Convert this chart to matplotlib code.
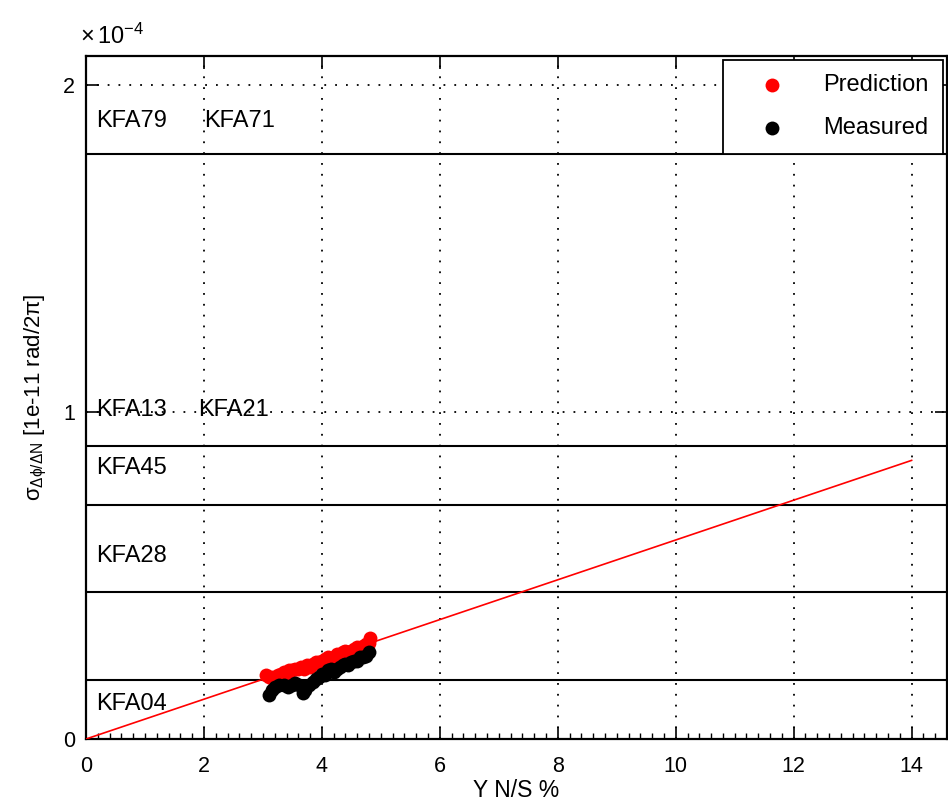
import matplotlib
matplotlib.use("Agg")
import matplotlib.pyplot as plt
from matplotlib.ticker import FuncFormatter, MultipleLocator, FixedLocator

plt.rcParams['font.family'] = ['Liberation Sans', 'DejaVu Sans']
plt.rcParams['mathtext.fontset'] = 'custom'
plt.rcParams['mathtext.rm'] = 'Liberation Sans'
plt.rcParams['mathtext.it'] = 'Liberation Sans'

# ---- data ----
pred_x = [3.05, 3.10, 3.15, 3.20, 3.25, 3.30, 3.35, 3.40, 3.45, 3.50, 3.55, 3.60,
          3.65, 3.70, 3.75, 3.80, 3.85, 3.90, 3.95, 4.00, 4.05, 4.10, 4.15, 4.20,
          4.25, 4.30, 4.35, 4.40, 4.45, 4.50, 4.55, 4.60, 4.65, 4.70, 4.75, 4.80, 4.82]
pred_y = [0.195, 0.19, 0.19, 0.17, 0.195, 0.20, 0.205, 0.20, 0.21, 0.21, 0.215, 0.215,
          0.22, 0.215, 0.225, 0.22, 0.23, 0.235, 0.235, 0.24, 0.245, 0.25, 0.245, 0.25,
          0.26, 0.255, 0.265, 0.27, 0.265, 0.27, 0.275, 0.28, 0.275, 0.285, 0.29, 0.295, 0.31]
meas_x = [3.10, 3.15, 3.20, 3.28, 3.35, 3.42, 3.50, 3.55, 3.62, 3.68, 3.72, 3.78,
          3.85, 3.90, 3.95, 4.00, 4.05, 4.10, 4.15, 4.20, 4.25, 4.30, 4.35, 4.40,
          4.45, 4.50, 4.55, 4.60, 4.65, 4.70, 4.75, 4.80]
meas_y = [0.135, 0.15, 0.16, 0.165, 0.165, 0.16, 0.165, 0.17, 0.165, 0.14, 0.15, 0.165,
          0.175, 0.185, 0.19, 0.20, 0.195, 0.21, 0.215, 0.205, 0.215, 0.22, 0.225, 0.23,
          0.225, 0.235, 0.24, 0.24, 0.25, 0.25, 0.255, 0.265]
scale = 1e-4
fit_x = [0.0, 14.0]
fit_slope = 0.0609e-4  # per %

kfa_levels = [1.789, 0.896, 0.716, 0.45, 0.18]  # horizontal lines (x1e-4)
kfa_names = ["KFA79", "KFA71", "KFA13", "KFA21", "KFA45", "KFA28", "KFA04"]
kfa_lab_x = [0.17, 2.0, 0.17, 1.9, 0.17, 0.17, 0.17]
kfa_lab_y = [1.89, 1.89, 1.006, 1.006, 0.83, 0.56, 0.107]

W, H = 948, 806
fig = plt.figure(figsize=(W / 100, H / 100), dpi=100)
ax = fig.add_axes([86 / W, 1 - 739 / H, (947 - 86) / W, (739 - 56) / H])

ax.set_xlim(0, 14.6)
ax.set_ylim(0, 2.09e-4)

# grid
for gx in range(0, 15, 2):
    ax.axvline(gx, color='black', lw=1.3, ls=(0, (1, 5)), zorder=1)
for gy in [1e-4, 2e-4]:
    ax.axhline(gy, color='black', lw=1.3, ls=(0, (1, 5)), zorder=1)

for lv in kfa_levels:
    ax.axhline(lv * scale, color='black', lw=1.5, zorder=2)

ax.plot(fit_x, [v * fit_slope for v in fit_x], color='red', lw=1.2, zorder=3)

ax.scatter(pred_x, [v * scale for v in pred_y], s=100, color='red', lw=0,
           label='Prediction', zorder=4)
ax.scatter(meas_x, [v * scale for v in meas_y], s=100, color='black', lw=0,
           label='Measured', zorder=5)

for name, lx, ly in zip(kfa_names, kfa_lab_x, kfa_lab_y):
    ax.text(lx, ly * scale, name, fontsize=17, va='center', ha='left', zorder=6)

# ticks
ax.xaxis.set_major_locator(MultipleLocator(2))
ax.xaxis.set_minor_locator(MultipleLocator(0.2))
ax.yaxis.set_major_locator(FixedLocator([0, 1e-4, 2e-4]))
ax.yaxis.set_major_formatter(FuncFormatter(lambda v, p: f"{v / 1e-4:g}"))
ax.tick_params(which='major', direction='in', length=9, width=1.2,
               top=True, right=True, labelsize=15.5)
ax.tick_params(axis='x', which='major', pad=12)
ax.tick_params(axis='y', which='major', pad=8)
ax.tick_params(which='minor', direction='in', length=4, width=1.0,
               top=False, right=False)
ax.tick_params(axis='y', which='minor', left=False)
for s in ax.spines.values():
    s.set_linewidth(1.6)

ax.set_xlabel('Y N/S %', fontsize=16.5, labelpad=2)
ax.set_ylabel(r'$\sigma_{\Delta\phi/\Delta N}$ [1e-11 rad/2$\pi$]', fontsize=16, labelpad=10)

fig.text(80 / W, 1 - 36 / H, r'$\times\,10^{-4}$', fontsize=17, va='center', ha='left')

leg = ax.legend(loc='upper right', fontsize=17, frameon=True, fancybox=False,
                edgecolor='black', borderaxespad=0.15, labelspacing=0.9,
                handletextpad=0.75, borderpad=0.62, handlelength=2.9,
                scatterpoints=1)
leg.get_frame().set_linewidth(1.3)
leg.get_frame().set_alpha(1)

fig.savefig('out.png', dpi=100)
